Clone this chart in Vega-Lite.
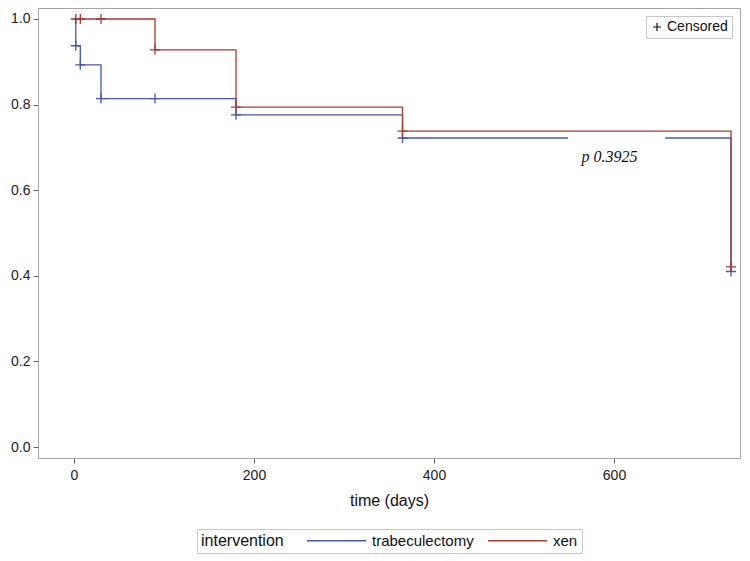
{
  "$schema": "https://vega.github.io/schema/vega-lite/v6.json",
  "width": 702,
  "height": 450,
  "autosize": {"type": "none"},
  "padding": {"left": 38, "top": 8, "right": 10, "bottom": 103},
  "background": "white",
  "config": {
    "font": "Liberation Sans",
    "view": {"stroke": "#a6a6a6", "strokeWidth": 1},
    "axis": {"domain": false, "grid": false, "tickColor": "#666", "tickSize": 5, "labelColor": "#222", "labelFontSize": 14, "titleFontSize": 16, "titleFontWeight": "normal", "titleColor": "#111"},
    "legend": {"layout": {"bottom": {"anchor": "middle"}}}
  },
  "datasets": {
    "curves": [
      {"intervention": "trabeculectomy", "day": 0, "survival": 1.0},
      {"intervention": "trabeculectomy", "day": 2, "survival": 0.9375},
      {"intervention": "trabeculectomy", "day": 7, "survival": 0.893},
      {"intervention": "trabeculectomy", "day": 30, "survival": 0.814},
      {"intervention": "trabeculectomy", "day": 180, "survival": 0.776},
      {"intervention": "trabeculectomy", "day": 365, "survival": 0.722},
      {"intervention": "trabeculectomy", "day": 730, "survival": 0.41},
      {"intervention": "xen", "day": 0, "survival": 1.0},
      {"intervention": "xen", "day": 90, "survival": 0.928},
      {"intervention": "xen", "day": 180, "survival": 0.794},
      {"intervention": "xen", "day": 365, "survival": 0.738},
      {"intervention": "xen", "day": 730, "survival": 0.421}
    ],
    "censored": [
      {"intervention": "trabeculectomy", "status": "Censored", "day": 2, "survival": 0.9375},
      {"intervention": "trabeculectomy", "status": "Censored", "day": 7, "survival": 0.893},
      {"intervention": "trabeculectomy", "status": "Censored", "day": 30, "survival": 0.814},
      {"intervention": "trabeculectomy", "status": "Censored", "day": 90, "survival": 0.814},
      {"intervention": "trabeculectomy", "status": "Censored", "day": 180, "survival": 0.776},
      {"intervention": "trabeculectomy", "status": "Censored", "day": 365, "survival": 0.722},
      {"intervention": "trabeculectomy", "status": "Censored", "day": 730, "survival": 0.41},
      {"intervention": "xen", "status": "Censored", "day": 2, "survival": 1.0},
      {"intervention": "xen", "status": "Censored", "day": 7, "survival": 1.0},
      {"intervention": "xen", "status": "Censored", "day": 30, "survival": 1.0},
      {"intervention": "xen", "status": "Censored", "day": 90, "survival": 0.928},
      {"intervention": "xen", "status": "Censored", "day": 180, "survival": 0.794},
      {"intervention": "xen", "status": "Censored", "day": 365, "survival": 0.738},
      {"intervention": "xen", "status": "Censored", "day": 730, "survival": 0.421}
    ],
    "note": [
      {"label": "p 0.3925", "day": 595, "survival": 0.678, "day0": 549, "day1": 657, "s0": 0.645, "s1": 0.729}
    ]
  },
  "encoding": {
    "x": {"field": "day", "type": "quantitative", "scale": {"domain": [-40, 740], "nice": false, "zero": false},
      "axis": {"values": [0, 200, 400, 600], "title": "time (days)", "labelPadding": 5, "titlePadding": 10}},
    "y": {"field": "survival", "type": "quantitative", "scale": {"domain": [-0.0257, 1.0257], "nice": false, "zero": false},
      "axis": {"values": [0, 0.2, 0.4, 0.6, 0.8, 1.0], "format": ".1f", "title": null, "labelPadding": 3}}
  },
  "layer": [
    {
      "data": {"name": "curves"},
      "transform": [{"filter": "datum.intervention === 'trabeculectomy'"}],
      "mark": {"type": "line", "interpolate": "step-after", "strokeWidth": 1.3},
      "encoding": {
        "color": {"field": "intervention", "type": "nominal",
          "scale": {"domain": ["trabeculectomy", "xen"], "range": ["#4459b0", "#ad3a2f"]},
          "legend": {"orient": "bottom", "direction": "horizontal", "title": "intervention", "titleOrient": "left",
            "titleAnchor": "middle", "titleBaseline": "middle",
            "titleFontWeight": "normal", "titleFontSize": 16, "titleColor": "#111", "labelFontSize": 15, "labelColor": "#111",
            "symbolType": "M-5.9,0L5.9,0", "symbolSize": 100, "symbolStrokeWidth": 1.3, "strokeColor": "#c8c8c8", "padding": 4,
            "offset": 21, "columnPadding": 11, "titlePadding": 45, "labelOffset": 28}}
      }
    },
    {
      "data": {"name": "note"},
      "mark": {"type": "rect", "fill": "white"},
      "encoding": {
        "x": {"field": "day0", "type": "quantitative"},
        "x2": {"field": "day1"},
        "y": {"field": "s0", "type": "quantitative"},
        "y2": {"field": "s1"}
      }
    },
    {
      "data": {"name": "curves"},
      "transform": [{"filter": "datum.intervention === 'xen'"}],
      "mark": {"type": "line", "interpolate": "step-after", "strokeWidth": 1.3},
      "encoding": {
        "color": {"field": "intervention", "type": "nominal"}
      }
    },
    {
      "data": {"name": "censored"},
      "mark": {"type": "point", "filled": false, "strokeWidth": 1.3, "opacity": 1, "size": 100},
      "encoding": {
        "color": {"field": "intervention", "type": "nominal"},
        "shape": {"field": "status", "type": "nominal",
          "scale": {"domain": ["Censored"], "range": ["M-1,0L1,0M0,-1L0,1"]},
          "legend": {"orient": "top-right", "title": null, "strokeColor": "#c8c8c8", "padding": 4, "offset": 8,
            "labelFontSize": 14, "labelColor": "#111", "symbolStrokeColor": "#111", "symbolStrokeWidth": 1.2,
            "symbolSize": 64, "labelOffset": 3, "fillColor": "white"}}
      }
    },
    {
      "data": {"name": "note"},
      "mark": {"type": "text", "font": "Liberation Serif", "fontStyle": "italic", "fontSize": 16, "color": "#111", "align": "center", "baseline": "middle"},
      "encoding": {
        "text": {"field": "label"}
      }
    }
  ]
}
